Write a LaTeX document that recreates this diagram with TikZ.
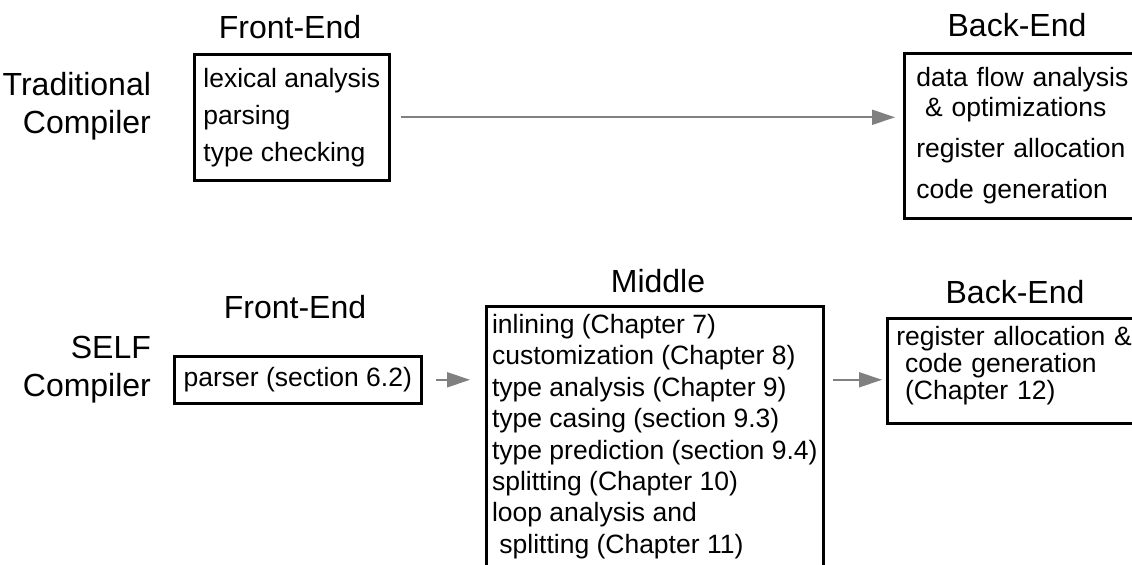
\documentclass[tikz,border=0pt]{standalone}
\usepackage{fontspec}
\setmainfont{Liberation Sans}
\usetikzlibrary{arrows.meta,positioning}

\tikzset{
  stage/.style={draw,line width=1.3pt,align=left,anchor=north west,
    font=\fontsize{13.25}{15.7}\selectfont},
  title/.style={font=\fontsize{16}{19}\selectfont},
  flow/.style={draw=gray,line width=1pt,-{Triangle[length=11.5pt,width=7.5pt]}}
}

\begin{document}
\begin{tikzpicture}[x=0.5pt,y=-0.5pt]
  \useasboundingbox (0,0) rectangle (1132,565);

  % traditional compiler
  \node[title] (tfe) at (290,27) {Front-End};
  \node[title] (tbe) at (1017,25) {Back-End};
  \node[title,align=right,anchor=east] (trad) at (158,106) {Traditional\\Compiler};
  \node[stage,minimum width=97.5pt,minimum height=63pt,
    font=\fontsize{13.25}{18.5}\selectfont] (tfront) at (193,53)
    {lexical analysis\\parsing\\type checking};
  \node[stage,text width=130pt,inner xsep=6pt,minimum height=82.5pt,
    font=\fontsize{13.25}{15}\selectfont] (tback) at (903,52)
    {data flow analysis\\ \ \& optimizations\\[5.5pt]register allocation\\[5.5pt]code generation};
  \draw[flow,shorten <=5pt,shorten >=4pt] (tfront.east) -- (tfront.east -| tback.west);

  % SELF compiler
  \node[title] (sfe) at (295,307) {Front-End};
  \node[title] (smid) at (658,281) {Middle};
  \node[title] (sbe) at (1015,292) {Back-End};
  \node[title,align=right,anchor=east] (self) at (158,370) {SELF\\Compiler};
  \node[stage,minimum width=123.5pt,minimum height=23.5pt] (sfront) at (173,355)
    {parser (section 6.2)};
  \node[stage,minimum width=168.5pt,inner xsep=2pt,inner ysep=4pt] (smiddle) at (485,305)
    {inlining (Chapter 7)\\customization (Chapter 8)\\type analysis (Chapter 9)\\
     type casing (section 9.3)\\type prediction (section 9.4)\\splitting (Chapter 10)\\
     loop analysis and\\ \ splitting (Chapter 11)\rule[-20pt]{0pt}{0pt}};
  \node[stage,text width=130pt,inner xsep=4.5pt,inner ysep=4pt,
    font=\fontsize{13.25}{13.5}\selectfont] (sback) at (886,317)
    {register allocation \&\\ \ code generation\\ \ (Chapter 12)\rule[-8pt]{0pt}{0pt}};
  \draw[flow,shorten <=6.5pt,shorten >=7.5pt] (sfront.east) -- (sfront.east -| smiddle.west);
  \draw[flow,shorten <=4pt,shorten >=2pt] (smiddle.east |- sfront.east) -- (sback.west |- sfront.east);
\end{tikzpicture}
\end{document}
